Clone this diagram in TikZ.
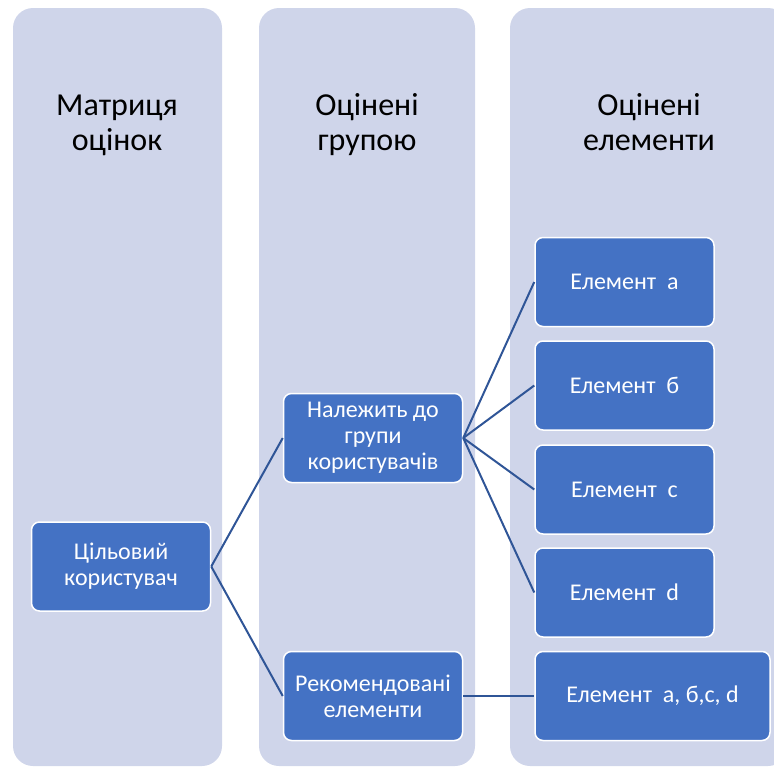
\documentclass[tikz,border=0pt]{standalone}
\usepackage{fontspec}
\setmainfont{Carlito}
\usepackage{tikz}

\definecolor{lane}{HTML}{CFD5EA}
\definecolor{boxblue}{HTML}{4472C4}
\definecolor{linkblue}{HTML}{2F5597}

\begin{document}
\begin{tikzpicture}[x=1pt,y=-1pt,
		lanebg/.style={fill=lane,rounded corners=20pt},
		head/.style={anchor=north,inner sep=0pt,align=center,font=\fontsize{32}{35}\selectfont,text=black},
		item/.style={shape=rectangle,rounded corners=8pt,fill=boxblue,draw=white,line width=1.5pt,
			minimum width=179pt,minimum height=89pt,inner sep=0pt,align=center,text=white,
			font=\fontsize{24}{26}\selectfont},
		link/.style={draw=linkblue,line width=2pt}]

		\useasboundingbox (0,0) rectangle (774,766);
		\clip (0,0) rectangle (774,766);

		% columns
		\fill[lanebg] (13,8) rectangle (222,766);
		\fill[lanebg] (259,8) rectangle (475,766);
		\fill[lanebg] (510,8) rectangle (788,766);

		\node[head] (h1) at (117, 90.5)    {\strut Матриця\\\strut оцінок};
		\node[head] (h2) at (367, 90.5)    {\strut Оцінені\\\strut групою};
		\node[head] (h3) at (649, 90.5)    {\strut Оцінені\\\strut елементи};

		\node[item] (user)  at (121, 566.5) {Цільовий\\користувач};
		\node[item] (group) at (373, 438)   {Належить до\\групи\\користувачів};
		\node[item] (recom) at (373, 696)   {Рекомендовані\\елементи};
		\node[item] (ela)   at (624.5, 282) {Елемент~~a};
		\node[item] (elb)   at (624.5, 385.5) {Елемент~~б};
		\node[item] (elc)   at (624.5, 489.5) {Елемент~~c};
		\node[item] (eld)   at (624.5, 592.5) {Елемент~~d};
		\node[item,minimum width=235pt] (elall) at (652.5, 696) {Елемент~~a, б,c, d};

		\path[link] (user.east) edge (group.west);
		\path[link] (user.east) edge (recom.west);
		\path[link] (group.east) edge (ela.west);
		\path[link] (group.east) edge (elb.west);
		\path[link] (group.east) edge (elc.west);
		\path[link] (group.east) edge (eld.west);
		\path[link] (recom.east) edge (elall.west);

\end{tikzpicture}
\end{document}
